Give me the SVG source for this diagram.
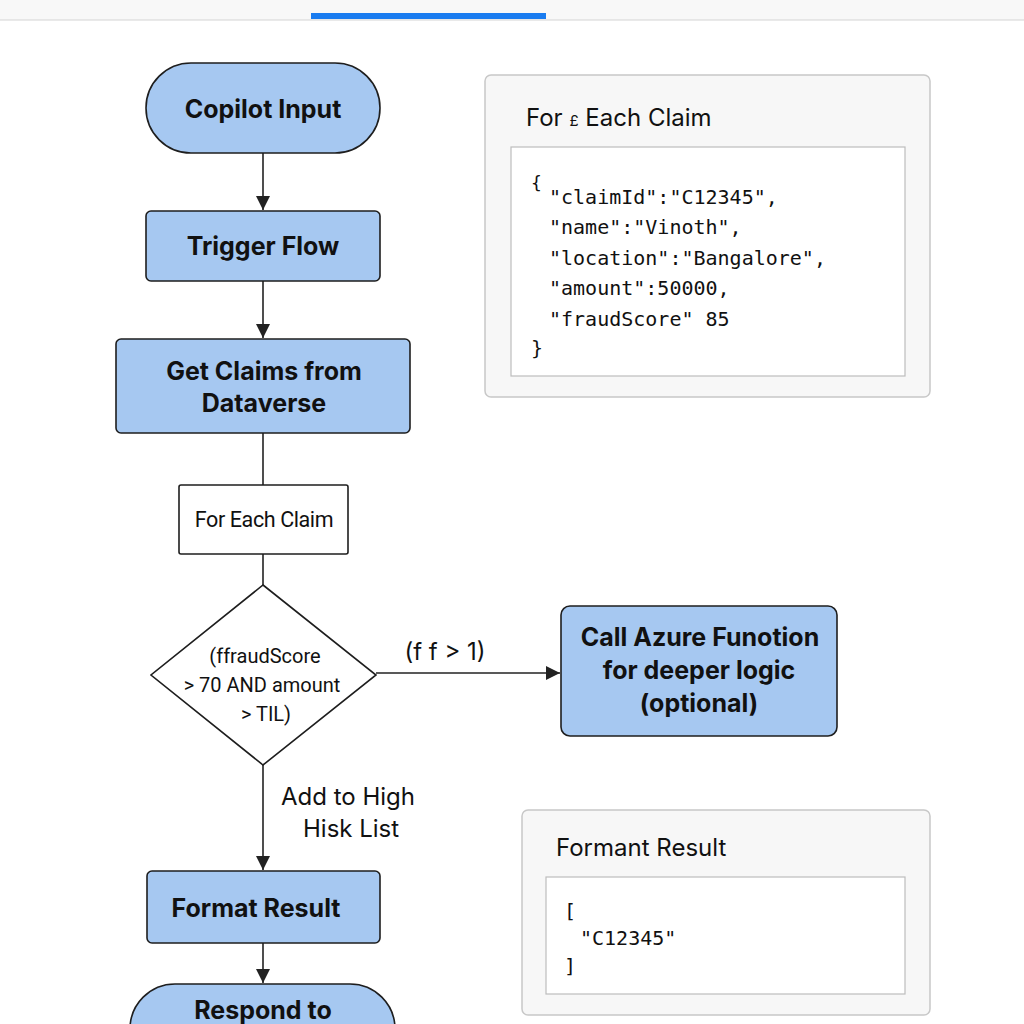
<svg xmlns="http://www.w3.org/2000/svg" width="1024" height="1024" viewBox="0 0 1024 1024">
<defs>
<style>
.node{fill:#a6c8f1;stroke:#1e1e1e;stroke-width:1.6}
.plain{fill:#ffffff;stroke:#1e1e1e;stroke-width:1.6}
.lbl{font-family:Inter,Roboto,"Liberation Sans",sans-serif;font-weight:700;font-size:25px;fill:#111;text-anchor:middle}
.txt{font-family:Roboto,Inter,"Liberation Sans",sans-serif;font-size:20px;fill:#111}
.edgelbl{font-family:Inter,Roboto,"Liberation Sans",sans-serif;font-size:24px;fill:#111}
.edge{stroke:#222;stroke-width:1.6;fill:none}
.panel{fill:#f7f7f7;stroke:#c8c8c8;stroke-width:1.5}
.inner{fill:#ffffff;stroke:#bdbdbd;stroke-width:1.2}
.ptitle{font-family:Inter,Roboto,"Liberation Sans",sans-serif;font-size:24px;fill:#111}
.mono{font-family:"DejaVu Sans Mono","Liberation Mono",monospace;font-size:20px;fill:#111}
</style>
<marker id="arrB" viewBox="0 0 10 10" refX="10" refY="5" markerWidth="18" markerHeight="14" markerUnits="userSpaceOnUse" orient="auto">
<path d="M0,0 L10,5 L0,10 z" fill="#222"/>
</marker>
</defs>
<rect x="0" y="0" width="1024" height="1024" fill="#ffffff"/>
<g id="topbar">
<rect x="0" y="0" width="1024" height="20" fill="#f8f8f8"/>
<line x1="0" y1="20" x2="1024" y2="20" stroke="#d4d4d4" stroke-width="1.2"/>
<rect x="311" y="13" width="235" height="6" fill="#1a7cf0"/>
</g>
<g id="connectors">
<line class="edge" x1="263" y1="153" x2="263" y2="210" marker-end="url(#arrB)"/>
<line class="edge" x1="263" y1="281" x2="263" y2="338" marker-end="url(#arrB)"/>
<line class="edge" x1="263" y1="433" x2="263" y2="485"/>
<line class="edge" x1="263" y1="554" x2="263" y2="585"/>
<line class="edge" x1="376" y1="673" x2="560" y2="673" marker-end="url(#arrB)"/>
<text class="edgelbl" x="445" y="660" text-anchor="middle">(f f &gt; 1)</text>
<line class="edge" x1="263" y1="765" x2="263" y2="870" marker-end="url(#arrB)"/>
<text class="edgelbl" x="281" y="805">Add to High</text>
<text class="edgelbl" x="303" y="837">Hisk List</text>
<line class="edge" x1="263" y1="943" x2="263" y2="983" marker-end="url(#arrB)"/>
</g>
<g id="copilot-input">
<rect class="node" x="146" y="63" width="234" height="90" rx="45"/>
<text class="lbl" x="263" y="118">Copilot Input</text>
</g>
<g id="trigger-flow">
<rect class="node" x="146" y="211" width="234" height="70" rx="5"/>
<text class="lbl" x="263" y="255">Trigger Flow</text>
</g>
<g id="get-claims">
<rect class="node" x="116" y="339" width="294" height="94" rx="5"/>
<text class="lbl" x="264" y="380">Get Claims from</text>
<text class="lbl" x="264" y="412">Dataverse</text>
</g>
<g id="for-each">
<rect class="plain" x="179" y="485" width="169" height="69" rx="2"/>
<text class="txt" x="264" y="527" text-anchor="middle" style="font-size:21.5px;letter-spacing:-0.4px">For Each Claim</text>
</g>
<g id="decision">
<polygon class="plain" points="263,585 376,675 263,765 151,675"/>
<text class="txt" x="265" y="663" text-anchor="middle">(ffraudScore</text>
<text class="txt" x="262" y="692" text-anchor="middle">&gt; 70 AND amount</text>
<text class="txt" x="266" y="721" text-anchor="middle">&gt; TIL)</text>
</g>
<g id="azure">
<rect class="node" x="561" y="606" width="276" height="130" rx="9"/>
<text class="lbl" x="700" y="646">Call Azure Funotion</text>
<text class="lbl" x="699" y="679">for deeper logic</text>
<text class="lbl" x="699" y="712">(optional)</text>
</g>
<g id="format-result">
<rect class="node" x="147" y="871" width="233" height="72" rx="5"/>
<text class="lbl" x="256" y="917">Format Result</text>
</g>
<g id="respond">
<rect class="node" x="130" y="984" width="265" height="90" rx="45"/>
<text class="lbl" x="263" y="1019">Respond to</text>
</g>
<g id="panel-claim">
<rect class="panel" x="485" y="75" width="445" height="322" rx="6"/>
<text class="ptitle" x="526" y="126">For <tspan style="font-size:15px">£</tspan> Each Claim</text>
<rect class="inner" x="511" y="147" width="394" height="229"/>
<text class="mono" x="531" y="189" style="font-size:18px">{</text>
<text class="mono" x="549" y="204">"claimId":"C12345",</text>
<text class="mono" x="549" y="234">"name":"Vinoth",</text>
<text class="mono" x="549" y="265">"location":"Bangalore",</text>
<text class="mono" x="549" y="295">"amount":50000,</text>
<text class="mono" x="549" y="326">"fraudScore" 85</text>
<text class="mono" x="531" y="355">}</text>
</g>
<g id="panel-result">
<rect class="panel" x="522" y="810" width="408" height="205" rx="6"/>
<text class="ptitle" x="556" y="856">Formant Result</text>
<rect class="inner" x="546" y="877" width="359" height="117"/>
<text class="mono" x="564" y="918">[</text>
<text class="mono" x="580" y="945">"C12345"</text>
<text class="mono" x="564" y="973">]</text>
</g>
</svg>
